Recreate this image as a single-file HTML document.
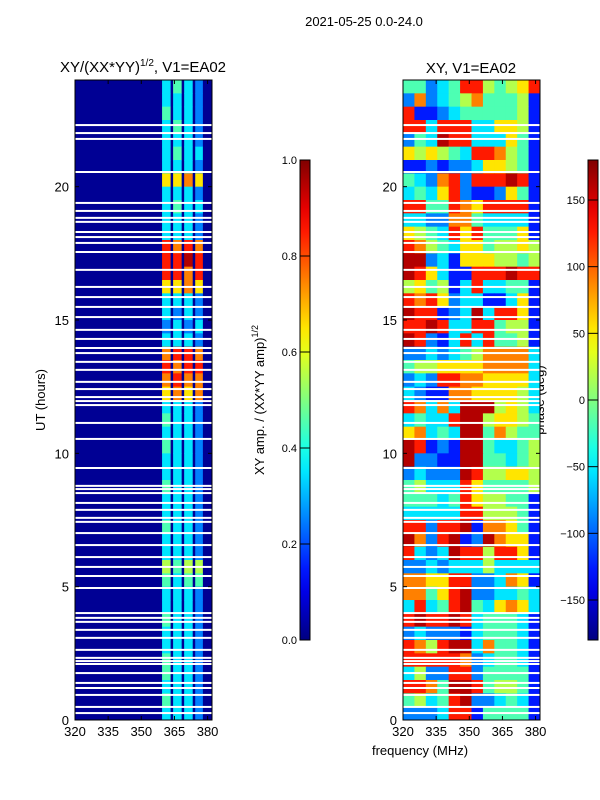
<!DOCTYPE html>
<html><head><meta charset="utf-8">
<style>
body{margin:0;background:#fff;}
svg{display:block;font-family:"Liberation Sans","DejaVu Sans",sans-serif;}
</style></head>
<body>
<svg id="fig" width="600" height="800" xmlns="http://www.w3.org/2000/svg">
<rect width="600" height="800" fill="#fff"/>
<text x="364" y="26" font-size="13" text-anchor="middle">2021-05-25 0.0-24.0</text>
<text x="143" y="72" font-size="15" text-anchor="middle">XY/(XX*YY)<tspan dy="-6" font-size="10">1/2</tspan><tspan dy="6">, V1=EA02</tspan></text>
<text x="471" y="73" font-size="15" text-anchor="middle">XY, V1=EA02</text>
<text transform="translate(45,400) rotate(-90)" font-size="13" text-anchor="middle">UT (hours)</text>
<text x="420" y="755" font-size="13" text-anchor="middle">frequency (MHz)</text>
<text transform="translate(264,400) rotate(-90)" font-size="13" text-anchor="middle">XY amp. / (XX*YY amp)<tspan dy="-6" font-size="9">1/2</tspan></text>
<text transform="translate(544,400) rotate(-90)" font-size="13" text-anchor="middle">phase (deg)</text>
<g id="left"></g><g id="right"></g><g id="cbars"></g>
</svg>
<script>
// ---- data ----
const timeExtent = [0, 24];
const freqExtent = [320, 382];
const xTicks = [320, 335, 350, 365, 380];
const yTicks = [0, 5, 10, 15, 20];
// left panel: background level and four band stripe levels per half-hour row (top = 24h), digit d -> (d+0.5)/10
const leftBackground = 0.02;
const leftBandEdges = [359.4, 364.4, 369.4, 374.4, 379.0];
const leftBands = ["3432","3332","4332","3432","3332","3433","3332","6676","3332","3433","3332","3332","8787","8898","8878","6676","3332","3232","2323","3332","7887","8788","7877","6767","3332","4332","3332","4332","3332","3332","4332","3332","3332","4332","3332","3332","5455","4344","3332","3332","4332","3332","3332","4332","4332","3332","4332","3332"];
// right panel: phase per half-hour row (top = 24h), 12 frequency columns, digit d -> -180+(d+0.5)*36 deg
const rightRows = ["442348854568","272345744451","811234444451","883888336651","243988333641","656543887541","112122366541","432782888981","343682112641","884487688881","332277433331","654386844461","875436645565","992316665545","986311888988","564513833441","878623311361","988123938861","889833884551","982138384451","223234577773","455666677773","232887766663","321177666653","873739995653","343389956654","673439947544","981219943345","922119944345","232229855665","453338644445","444348655441","333338855541","882889177641","972891297661","832398858861","223233353333","776688223761","774689223343","383489436763","898898344431","232221344431","875899374431","888887234431","352288244441","887499845541","453489223431","222388144441"];
// flagged (blank) time rows in hours
const flagged = [22.31,22.01,21.79,20.55,19.39,19.09,18.83,18.68,18.30,18.11,17.89,17.55,16.88,16.24,15.86,15.49,15.11,14.63,14.29,13.95,13.76,13.43,13.13,12.68,12.41,12.11,11.96,11.81,11.14,10.54,9.45,8.78,8.66,8.51,8.14,7.88,7.58,7.43,7.01,6.56,6.11,5.74,5.40,4.95,4.01,3.83,3.68,3.38,3.08,2.63,2.33,2.21,2.10,1.76,1.39,1.20,0.94,0.49,0.26];
const ampTicks = [0.0, 0.2, 0.4, 0.6, 0.8, 1.0];
const phaseTicks = [-150, -100, -50, 0, 50, 100, 150];

// ---- helpers ----
const NS = "http://www.w3.org/2000/svg";
function jet(v){v=Math.max(0,Math.min(1,v));
 const r=Math.max(0,Math.min(1,1.5-Math.abs(4*v-3))),g=Math.max(0,Math.min(1,1.5-Math.abs(4*v-2))),b=Math.max(0,Math.min(1,1.5-Math.abs(4*v-1)));
 return `rgb(${Math.round(r*255)},${Math.round(g*255)},${Math.round(b*255)})`;}
function mk(tag,attrs,parent){const e=document.createElementNS(NS,tag);for(const k in attrs)e.setAttribute(k,attrs[k]);parent.appendChild(e);return e;}
const Y0=80,Y1=720;
function yScale(h){return Y1-(h-timeExtent[0])/(timeExtent[1]-timeExtent[0])*(Y1-Y0);}
function makeX(x0,x1){return f=>x0+(f-freqExtent[0])/(freqExtent[1]-freqExtent[0])*(x1-x0);}
const rowH=(timeExtent[1]-timeExtent[0])/48;

function axes(g,x0,x1,xs,name){
 mk('rect',{x:x0,y:Y0,width:x1-x0,height:Y1-Y0,fill:'none',stroke:'#000','stroke-width':1},g);
 xTicks.forEach(t=>{const x=xs(t);
  mk('line',{x1:x,x2:x,y1:Y1,y2:Y1-4,stroke:'#000'},g);
  mk('line',{x1:x,x2:x,y1:Y0,y2:Y0+4,stroke:'#000'},g);
  const tx=mk('text',{x:x,y:Y1+16,'font-size':13,'text-anchor':'middle'},g);tx.textContent=t;
  
  });
 yTicks.forEach(t=>{const y=yScale(t);
  mk('line',{x1:x0,x2:x0+4,y1:y,y2:y,stroke:'#000'},g);
  mk('line',{x1:x1,x2:x1-4,y1:y,y2:y,stroke:'#000'},g);
  const tx=mk('text',{x:x0-6,y:y+5,'font-size':13,'text-anchor':'end'},g);tx.textContent=t;
  
  });
}

// left panel
(function(){
 const g=document.getElementById('left');
 
 
 const x0=75,x1=212,xs=makeX(x0,x1);
 mk('rect',{x:x0,y:Y0,width:x1-x0,height:Y1-Y0,fill:jet(leftBackground)},g);
 leftBands.forEach((row,i)=>{
  const hTop=timeExtent[1]-i*rowH;
  const y=yScale(hTop);
  for(let k=0;k<4;k++){
   const v=(+row[k]+0.5)/10;
   const c=mk('rect',{x:xs(leftBandEdges[k]),y:y,width:xs(leftBandEdges[k+1])-xs(leftBandEdges[k])-2.5,height:yScale(hTop-rowH)-y+0.5,fill:jet(v)},g);
   
   
  }});
 flagged.forEach(h=>{const r=mk('rect',{x:x0,y:yScale(h)-1,width:x1-x0,height:2,fill:'#fff'},g);
  
  });
 axes(g,x0,x1,xs,'left');
})();

// right panel
(function(){
 const g=document.getElementById('right');
 
 
 const x0=403,x1=540,xs=makeX(x0,x1);
 const df=(freqExtent[1]-freqExtent[0])/12;
 rightRows.forEach((row,i)=>{
  const hTop=timeExtent[1]-i*rowH;const y=yScale(hTop);
  for(let k=0;k<12;k++){
   const ph=-180+(+row[k]+0.5)*36;
   const c=mk('rect',{x:xs(freqExtent[0]+k*df),y:y,width:xs(freqExtent[0]+(k+1)*df)-xs(freqExtent[0]+k*df)+0.5,height:yScale(hTop-rowH)-y+0.5,fill:jet((ph+180)/360)},g);
   
   
  }});
 flagged.forEach(h=>{const r=mk('rect',{x:x0,y:yScale(h)-1,width:x1-x0,height:2,fill:'#fff'},g);
  
  });
 axes(g,x0,x1,xs,'right');
})();

// colorbars
(function(){
 const g=document.getElementById('cbars');
 const defs=mk('defs',{},g);
 const lg=mk('linearGradient',{id:'jetg',x1:0,y1:1,x2:0,y2:0},defs);
 for(let i=0;i<=20;i++)mk('stop',{offset:i/20,'stop-color':jet(i/20)},lg);
 function bar(x,ticks,lo,hi,name,fmt){
  const r=mk('rect',{x:x,y:160,width:10,height:480,fill:'url(#jetg)',stroke:'#000','stroke-width':1},g);
  
  
  ticks.forEach(t=>{const y=640-(t-lo)/(hi-lo)*480;
   mk('line',{x1:x,x2:x+10,y1:y,y2:y,stroke:'#000','stroke-width':1},g);
   const tx=mk('text',{x:x-3,y:y+4,'font-size':11,'text-anchor':'end'},g);tx.textContent=fmt(t);
   
   });
 }
 bar(300,ampTicks,0,1,'amplitude-colorbar',t=>t.toFixed(1));
 bar(588,phaseTicks,-180,180,'phase-colorbar',t=>t<0?'\u2212'+(-t):String(t));
})();
</script>
</body></html>
